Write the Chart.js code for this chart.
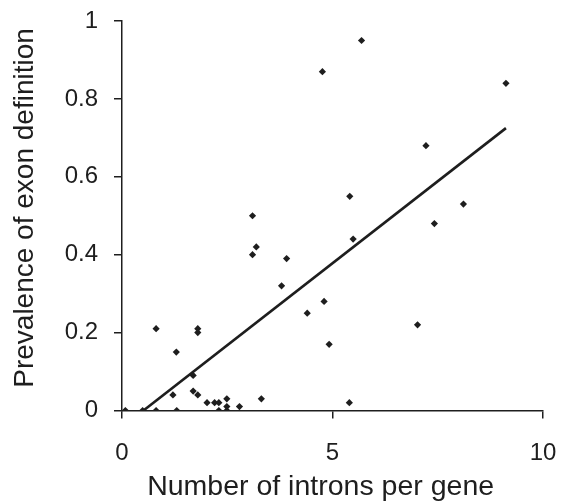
<!DOCTYPE html>
<html>
<head>
<meta charset="utf-8">
<script src="https://cdn.jsdelivr.net/npm/chart.js@4.4.0/dist/chart.umd.min.js"></script>
<style>
  html, body { margin: 0; padding: 0; background: #fff; }
  #wrap { width: 568px; height: 504px; }
</style>
</head>
<body>
<div id="wrap"><canvas id="myChart"></canvas></div>
<script>
// introns per gene vs prevalence of exon definition (one point per species)
var intronsPerGene = [0.08, 0.49, 0.81, 1.3, 1.21, 1.69, 1.69, 1.8, 2.02, 2.2, 2.3, 2.3, 2.49, 2.49, 2.49, 2.79, 3.31,
  0.81, 1.8, 1.8, 1.29, 3.1, 3.19, 3.1, 3.91, 3.79, 4.4, 4.8, 4.92, 5.4, 5.41, 5.49, 7.02, 7.42, 8.11, 7.22, 9.12, 4.76, 5.69];
var exonDefinition = [0, 0, 0, 0, 0.04, 0.09, 0.05, 0.04, 0.02, 0.02, 0.02, 0, 0.03, 0.01, 0, 0.01, 0.03,
  0.21, 0.21, 0.2, 0.15, 0.5, 0.42, 0.4, 0.39, 0.32, 0.25, 0.28, 0.17, 0.02, 0.55, 0.44, 0.22, 0.48, 0.53, 0.68, 0.84, 0.87, 0.95];

// linear fit
var fitX = [0.51, 9.12];
var fitY = [0, 0.725];

var xTicks = [0, 5, 10];
var yTicks = [0, 0.2, 0.4, 0.6, 0.8, 1];

var ink = '#1e1e1e';
var fontFam = '"Liberation Sans", Arial, sans-serif';
var nb = '\u00a0';

var pts = intronsPerGene.map(function (x, i) { return { x: x, y: exonDefinition[i] }; });
var fit = fitX.map(function (x, i) { return { x: x, y: fitY[i] }; });

var ctx = document.getElementById('myChart');
var myChart = new Chart(ctx, {
  type: 'scatter',
  data: {
    datasets: [
      {
        data: pts,
        pointStyle: 'rectRot',
        pointRadius: 3.6,
        pointBackgroundColor: ink,
        pointBorderWidth: 0,
        showLine: false
      },
      {
        type: 'line',
        data: fit,
        borderColor: ink,
        borderWidth: 2.6,
        pointRadius: 0,
        fill: false
      }
    ]
  },
  options: {
    responsive: true,
    maintainAspectRatio: false,
    animation: false,
    layout: { padding: { top: 21, right: 25, left: 0, bottom: 0 } },
    plugins: { legend: { display: false }, tooltip: { enabled: false } },
    scales: {
      x: {
        type: 'linear',
        min: 0, max: 10,
        afterBuildTicks: function (s) { s.ticks = xTicks.map(function (v) { return { value: v }; }); },
        afterFit: function (s) { s.height = 93.5; s.paddingLeft = 0; s.paddingRight = 0; },
        grid: { drawOnChartArea: false, tickLength: 8, color: ink, lineWidth: 1.5 },
        border: { display: true, color: ink, width: 1.5 },
        ticks: { color: ink, font: { family: fontFam, size: 24 }, padding: 20, maxRotation: 0 },
        // trailing spaces nudge the title a little left, as in the original
        title: { display: true, text: 'Number of introns per gene' + nb + nb + nb, color: ink,
                 font: { family: fontFam, size: 28.5 }, padding: { top: 0, bottom: 0 } }
      },
      y: {
        type: 'linear',
        min: 0, max: 1,
        afterBuildTicks: function (s) { s.ticks = yTicks.map(function (v) { return { value: v }; }); },
        afterFit: function (s) { s.width = 122; s.paddingTop = 0; s.paddingBottom = 0; },
        grid: { drawOnChartArea: false, tickLength: 8, color: ink, lineWidth: 1.5 },
        border: { display: true, color: ink, width: 1.5 },
        ticks: { color: ink, font: { family: fontFam, size: 24 }, padding: 16,
                 callback: function (v) { return String(+v.toFixed(1)); } },
        title: { display: true, text: nb + nb + 'Prevalence of exon definition', color: ink,
                 font: { family: fontFam, size: 28 }, padding: { top: 8, bottom: 0 } }
      }
    }
  }
});
</script>
</body>
</html>
